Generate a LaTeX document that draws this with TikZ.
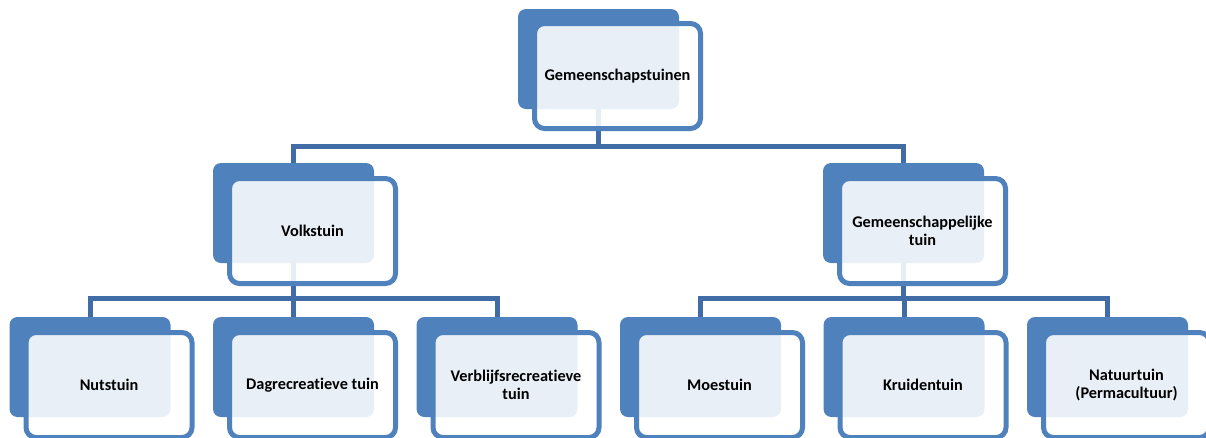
\documentclass[tikz,border=0pt]{standalone}
\usepackage{fontspec}
\setmainfont{Carlito}[Ligatures=NoCommon]
\usepackage{tikz}

\begin{document}
\begin{tikzpicture}[x=0.75pt,y=-0.75pt,
  backBox/.style={fill=boxColor, rounded corners=6pt, inner sep=0pt, minimum width=120.75pt, minimum height=75pt},
  frontBox/.style={draw=boxColor, line width=3.75pt, fill=white, fill opacity=0.88, text opacity=1, rounded corners=7.5pt, inner sep=0pt, minimum width=124.5pt, minimum height=78.75pt, align=center, font=\bfseries\fontsize{12.2}{13.5}\selectfont},
  conn/.style={draw=connColor, line width=3.75pt}]
\definecolor{boxColor}{RGB}{79,129,189}
\definecolor{connColor}{RGB}{65,108,165}
\useasboundingbox (0,0) rectangle (1206,437);
\node[backBox] (gs) at (598.5,59) {};
\node[backBox] (volk) at (293.5,213) {};
\node[backBox] (gem) at (903.5,213) {};
\node[backBox] (nuts) at (90,367) {};
\node[backBox] (dag) at (293.5,367) {};
\node[backBox] (verb) at (497,367) {};
\node[backBox] (moes) at (700.5,367) {};
\node[backBox] (kruid) at (904,367) {};
\node[backBox] (natuur) at (1107.5,367) {};
\draw[conn] (gs.south) -- ++(0,37) -| (volk.north);
\draw[conn] (gs.south) -- ++(0,37) -| (gem.north);
\draw[conn] (volk.south) -- ++(0,35) -| (nuts.north);
\draw[conn] (volk.south) -- ++(0,35) -| (dag.north);
\draw[conn] (volk.south) -- ++(0,35) -| (verb.north);
\draw[conn] (gem.south) -- ++(0,35) -| (moes.north);
\draw[conn] (gem.south) -- ++(0,35) -| (kruid.north);
\draw[conn] (gem.south) -- ++(0,35) -| (natuur.north);
\node[frontBox] (gsText) at ([shift={(19,17)}]gs.center) {Gemeenschapstuinen};
\node[frontBox] (volkText) at ([shift={(19,18)}]volk.center) {Volkstuin};
\node[frontBox] (gemText) at ([shift={(19,18)}]gem.center) {Gemeenschappelijke\\tuin};
\node[frontBox] (nutsText) at ([shift={(19,18)}]nuts.center) {Nutstuin};
\node[frontBox] (dagText) at ([shift={(19,18)}]dag.center) {Dagrecreatieve tuin};
\node[frontBox] (verbText) at ([shift={(19,18)}]verb.center) {Verblijfsrecreatieve\\tuin};
\node[frontBox] (moesText) at ([shift={(19,18)}]moes.center) {Moestuin};
\node[frontBox] (kruidText) at ([shift={(19,18)}]kruid.center) {Kruidentuin};
\node[frontBox] (natuurText) at ([shift={(19,18)}]natuur.center) {Natuurtuin\\(Permacultuur)};
\end{tikzpicture}
\end{document}
